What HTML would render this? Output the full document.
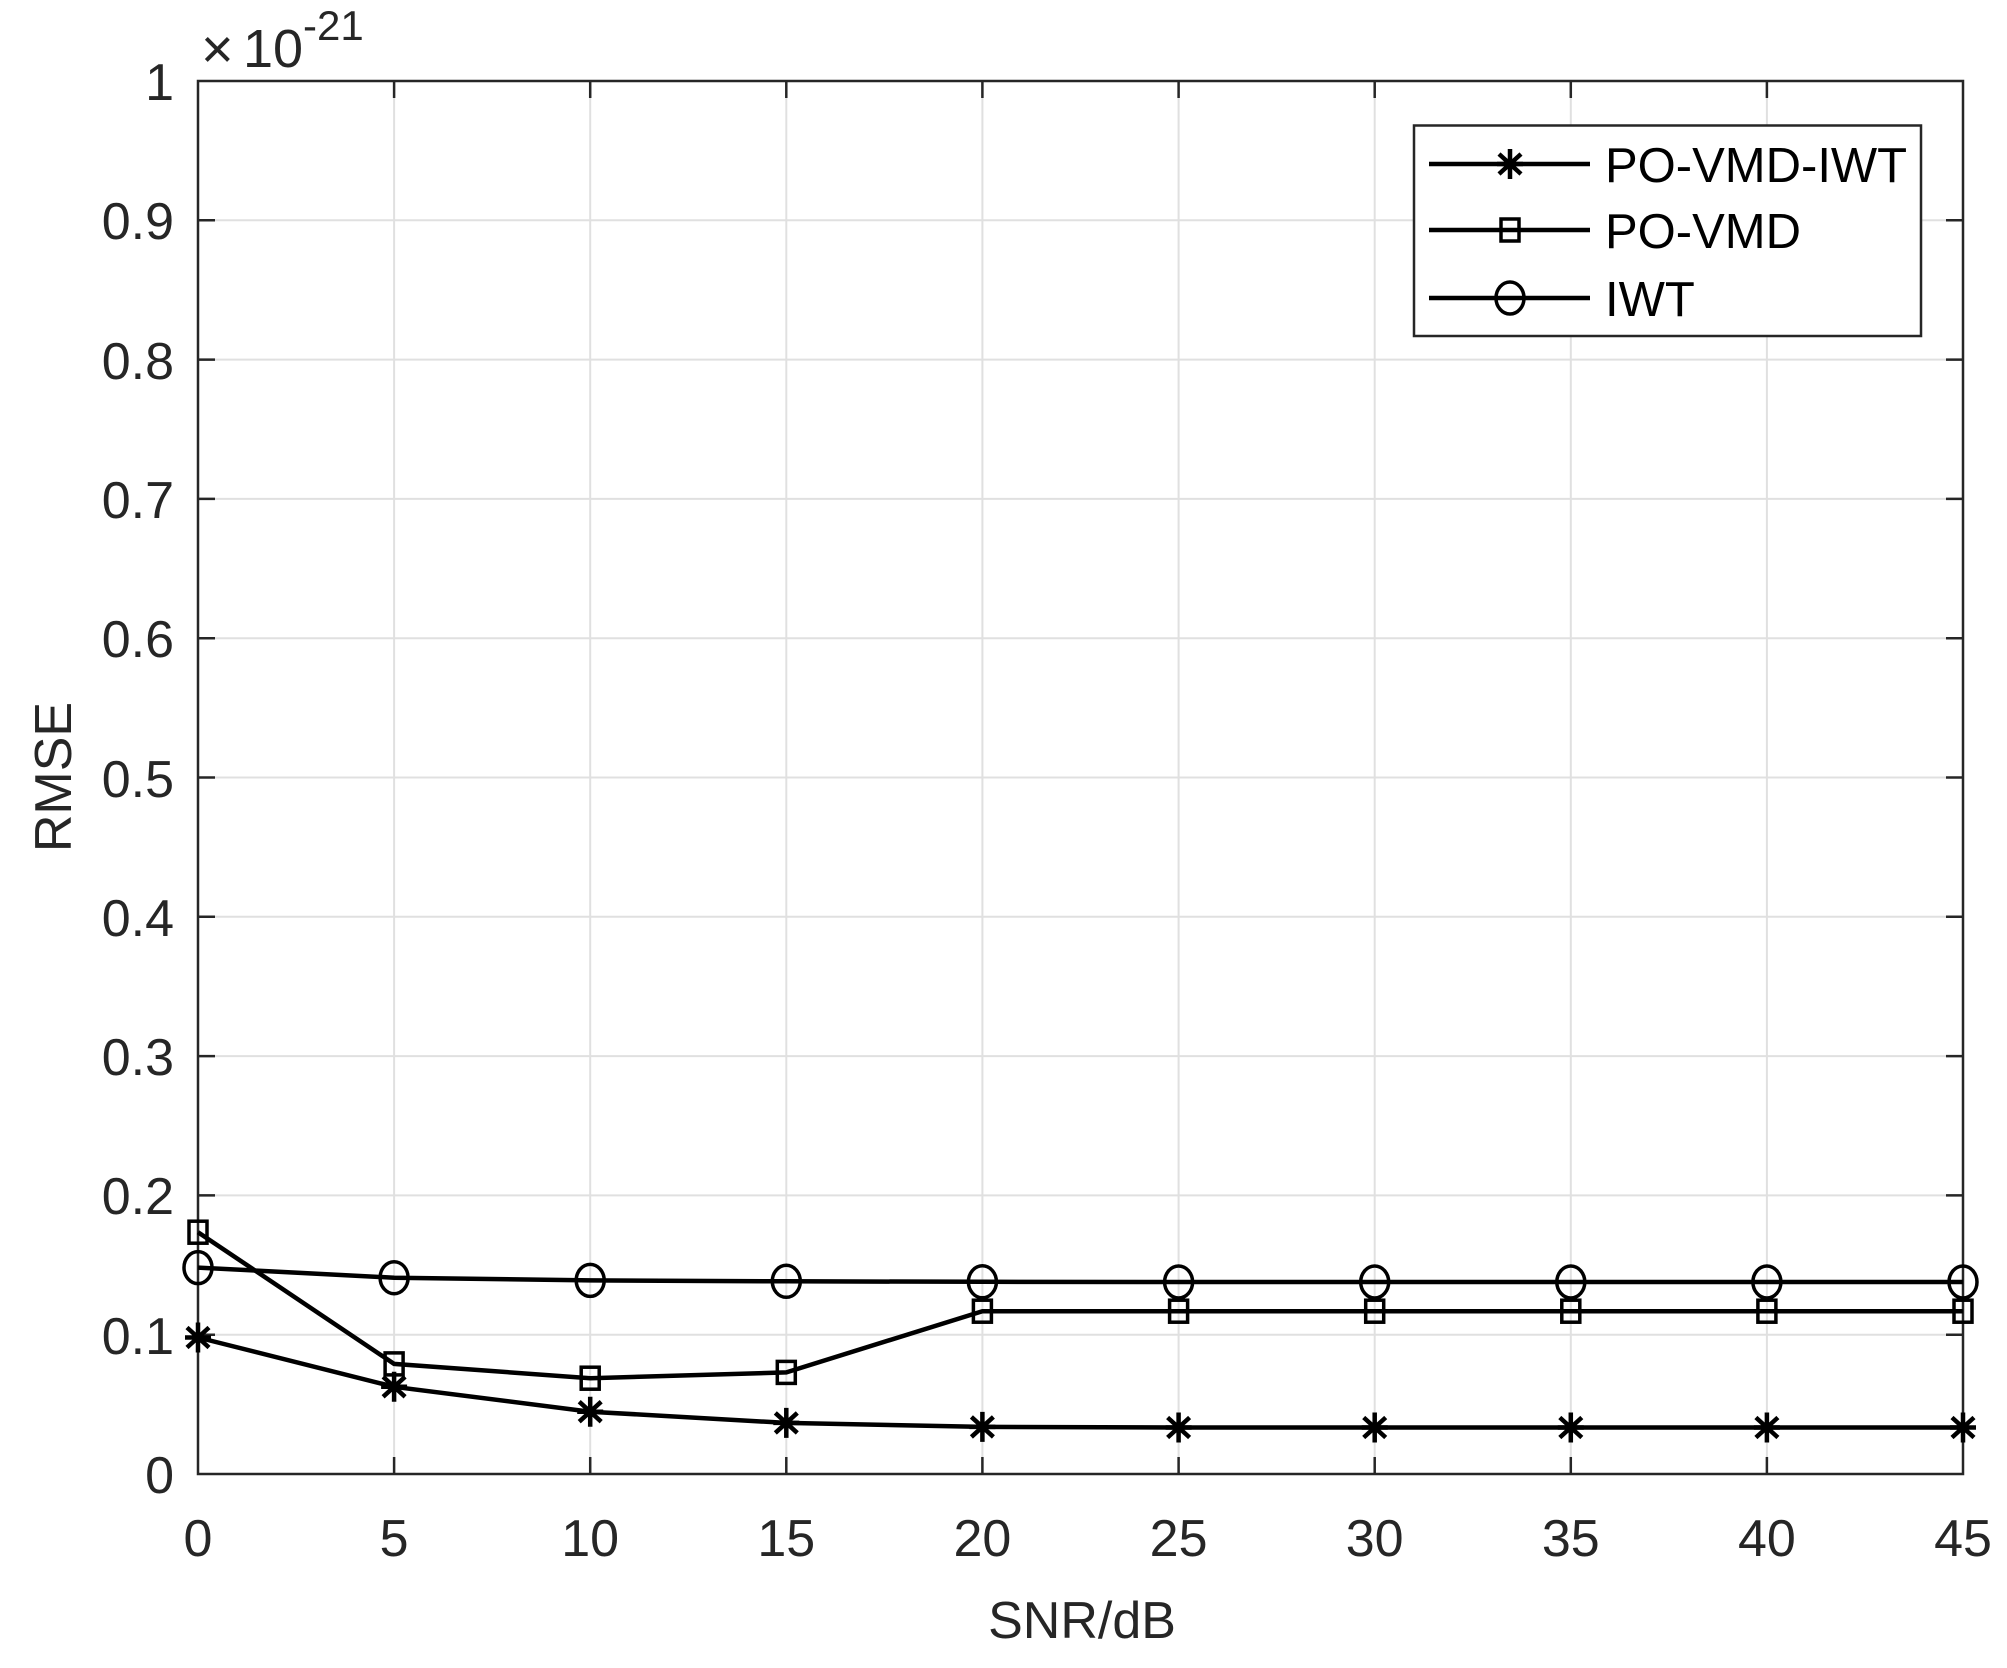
<!DOCTYPE html>
<html><head><meta charset="utf-8"><style>html,body{margin:0;padding:0;background:#fff}svg{display:block}</style></head>
<body>
<svg width="2007" height="1668" viewBox="0 0 2007 1668" xmlns="http://www.w3.org/2000/svg" font-family="Liberation Sans, Arial, sans-serif" fill="#262626">
<defs>
<g id="star"><path d="M0,-15V15M-11,-10L11,10M11,-10L-11,10M-13,0H13" stroke="#000" stroke-width="4.5" fill="none"/></g>
<g id="sq"><rect x="-9" y="-11" width="18" height="22" fill="none" stroke="#000" stroke-width="3.5"/></g>
<g id="ci"><ellipse cx="0" cy="0" rx="14" ry="16" fill="none" stroke="#000" stroke-width="3.5"/></g>
</defs>
<g id="grid" stroke="#e0e0e0" stroke-width="2">
<path d="M394.1,81V1474M590.2,81V1474M786.3,81V1474M982.4,81V1474M1178.6,81V1474M1374.7,81V1474M1570.8,81V1474M1766.9,81V1474"/>
<path d="M198,1334.7H1963M198,1195.4H1963M198,1056.1H1963M198,916.8H1963M198,777.5H1963M198,638.2H1963M198,498.9H1963M198,359.6H1963M198,220.3H1963"/>
</g>
<g stroke="#262626" stroke-width="2.5" fill="none">
<rect x="198" y="81" width="1765" height="1393"/>
<path d="M394.1,1474v-17M590.2,1474v-17M786.3,1474v-17M982.4,1474v-17M1178.6,1474v-17M1374.7,1474v-17M1570.8,1474v-17M1766.9,1474v-17"/>
<path d="M394.1,81v17M590.2,81v17M786.3,81v17M982.4,81v17M1178.6,81v17M1374.7,81v17M1570.8,81v17M1766.9,81v17"/>
<path d="M198,1334.7h17M198,1195.4h17M198,1056.1h17M198,916.8h17M198,777.5h17M198,638.2h17M198,498.9h17M198,359.6h17M198,220.3h17"/>
<path d="M1963,1334.7h-17M1963,1195.4h-17M1963,1056.1h-17M1963,916.8h-17M1963,777.5h-17M1963,638.2h-17M1963,498.9h-17M1963,359.6h-17M1963,220.3h-17"/>
</g>
<g font-size="52" text-anchor="end">
<text x="174" y="1493">0</text><text x="174" y="1354">0.1</text><text x="174" y="1214">0.2</text><text x="174" y="1075">0.3</text><text x="174" y="936">0.4</text><text x="174" y="797">0.5</text><text x="174" y="657">0.6</text><text x="174" y="518">0.7</text><text x="174" y="379">0.8</text><text x="174" y="239">0.9</text><text x="174" y="100">1</text>
</g>
<g font-size="52" text-anchor="middle">
<text x="198" y="1556">0</text><text x="394.1" y="1556">5</text><text x="590.2" y="1556">10</text><text x="786.3" y="1556">15</text><text x="982.4" y="1556">20</text><text x="1178.6" y="1556">25</text><text x="1374.7" y="1556">30</text><text x="1570.8" y="1556">35</text><text x="1766.9" y="1556">40</text><text x="1963" y="1556">45</text>
<text x="1082" y="1638">SNR/dB</text>
<text transform="translate(71,777) rotate(-90)">RMSE</text>
</g>
<text x="201" y="68" font-size="56">×</text>
<text x="243" y="67" font-size="54">10</text>
<text x="303" y="40" font-size="42">-21</text>
<g fill="none" stroke="#000" stroke-width="4.5">
<polyline points="198,1337.5 394.1,1386.8 590.2,1411.7 786.3,1422.9 982.4,1426.9 1178.6,1427.5 1374.7,1427.5 1570.8,1427.5 1766.9,1427.5 1963,1427.5"/>
<polyline points="198,1232.2 394.1,1363.9 590.2,1378.2 786.3,1372.4 982.4,1311.2 1178.6,1311.2 1374.7,1311.2 1570.8,1311.2 1766.9,1311.2 1963,1311.2"/>
<polyline points="198,1267.6 394.1,1277.7 590.2,1280.4 786.3,1281.3 982.4,1281.8 1178.6,1282 1374.7,1282 1570.8,1282 1766.9,1282 1963,1282"/>
</g>
<use href="#star" x="198" y="1337.5"/><use href="#star" x="394.1" y="1386.8"/><use href="#star" x="590.2" y="1411.7"/><use href="#star" x="786.3" y="1422.9"/><use href="#star" x="982.4" y="1426.9"/><use href="#star" x="1178.6" y="1427.5"/><use href="#star" x="1374.7" y="1427.5"/><use href="#star" x="1570.8" y="1427.5"/><use href="#star" x="1766.9" y="1427.5"/><use href="#star" x="1963" y="1427.5"/>
<use href="#sq" x="198" y="1232.2"/><use href="#sq" x="394.1" y="1363.9"/><use href="#sq" x="590.2" y="1378.2"/><use href="#sq" x="786.3" y="1372.4"/><use href="#sq" x="982.4" y="1311.2"/><use href="#sq" x="1178.6" y="1311.2"/><use href="#sq" x="1374.7" y="1311.2"/><use href="#sq" x="1570.8" y="1311.2"/><use href="#sq" x="1766.9" y="1311.2"/><use href="#sq" x="1963" y="1311.2"/>
<use href="#ci" x="198" y="1267.6"/><use href="#ci" x="394.1" y="1277.7"/><use href="#ci" x="590.2" y="1280.4"/><use href="#ci" x="786.3" y="1281.3"/><use href="#ci" x="982.4" y="1281.8"/><use href="#ci" x="1178.6" y="1282"/><use href="#ci" x="1374.7" y="1282"/><use href="#ci" x="1570.8" y="1282"/><use href="#ci" x="1766.9" y="1282"/><use href="#ci" x="1963" y="1282"/>
<rect x="1414" y="125.5" width="507" height="210.5" fill="#fff" stroke="#262626" stroke-width="2.5"/>
<g stroke="#000" stroke-width="4.5"><path d="M1429,164H1590M1429,230H1590M1429,298H1590"/></g>
<use href="#star" x="1510" y="164"/><use href="#sq" x="1510" y="230"/><use href="#ci" x="1510" y="298"/>
<g font-size="49" fill="#000">
<text x="1605" y="182">PO-VMD-IWT</text><text x="1605" y="248">PO-VMD</text><text x="1605" y="316">IWT</text>
</g>
</svg>
</body></html>
